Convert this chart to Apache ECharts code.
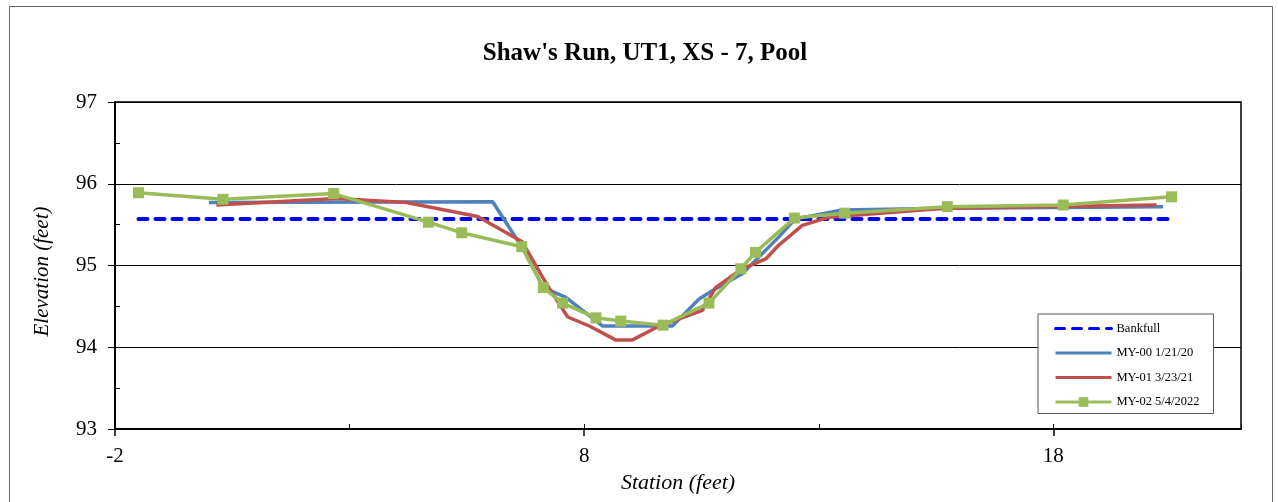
<!DOCTYPE html>
<html>
<head>
<meta charset="utf-8">
<title>Shaw's Run, UT1, XS - 7, Pool</title>
<script src="https://cdn.jsdelivr.net/npm/echarts@6/dist/echarts.min.js"></script>
<style>
  html, body { margin: 0; padding: 0; background: #fff; }
  #chart { width: 1278px; height: 502px; }
</style>
</head>
<body>
<div id="chart"></div>
<script>
// 数据
const seriesNames = ["Bankfull", "MY-00 1/21/20", "MY-01 3/23/21", "MY-02 5/4/2022"];

const bankfullX = [-1.5, 20.5];
const bankfullY = [95.57, 95.57];

const my00X = [0.0, 6.05, 6.7, 7.13, 7.61, 8.39, 9.88, 10.45, 10.73, 11.37, 12.15, 12.5, 13.5, 15.7, 20.34];
const my00Y = [95.77, 95.78, 95.2, 94.73, 94.61, 94.26, 94.26, 94.59, 94.69, 94.9, 95.35, 95.57, 95.68, 95.7, 95.72];

const my01X = [0.16, 2.72, 4.21, 5.73, 6.68, 7.19, 7.65, 8.11, 8.67, 9.03, 9.6, 10.52, 10.8, 11.37, 11.87, 12.15, 12.65, 13.21, 15.7, 20.2];
const my01Y = [95.74, 95.82, 95.77, 95.6, 95.29, 94.78, 94.37, 94.26, 94.09, 94.09, 94.26, 94.45, 94.73, 94.96, 95.08, 95.25, 95.49, 95.59, 95.7, 95.74];

const my02X = [-1.5, 0.3, 2.66, 4.68, 5.39, 6.67, 7.13, 7.54, 8.25, 8.78, 9.68, 10.66, 11.34, 11.65, 12.48, 13.55, 15.74, 18.21, 20.52];
const my02Y = [95.89, 95.81, 95.88, 95.53, 95.4, 95.23, 94.73, 94.54, 94.36, 94.32, 94.27, 94.54, 94.96, 95.16, 95.58, 95.64, 95.72, 95.74, 95.84];

const xMin = -2, xMax = 22, xMajor = 10, xMinor = 5;
const yMin = 93, yMax = 97, yMajor = 1, yMinor = 0.5;

function pairs(xs, ys) {
  return xs.map((x, i) => [x, ys[i]]);
}

const font = "Liberation Serif";
// 图例里不要圆点，只留线（绿色那条保留方块）
const hideDot = { opacity: 0 };

let option = {
  animation: false,
  backgroundColor: "#fff",
  textStyle: { fontFamily: font },
  title: {
    text: "Shaw's Run, UT1, XS - 7, Pool",
    left: 640,
    textAlign: "center",
    top: 36,
    textStyle: { fontFamily: font, fontSize: 25, fontWeight: "bold", color: "#000" }
  },
  graphic: [
    {
      type: "rect",
      shape: { x: 9.5, y: 6.5, width: 1263, height: 510 },
      style: { fill: null, stroke: "#666", lineWidth: 1 },
      silent: true
    }
  ],
  legend: {
    orient: "vertical",
    left: 1038,
    top: 314,
    padding: [8, 14, 5, 16],
    itemWidth: 56,
    itemHeight: 12,
    itemGap: 11.5,
    backgroundColor: "#fff",
    borderColor: "#555",
    borderWidth: 1,
    lineStyle: { width: 3 },
    textStyle: { fontFamily: font, fontSize: 12.5, color: "#000" },
    data: [
      { name: seriesNames[0], itemStyle: hideDot },
      { name: seriesNames[1], itemStyle: hideDot },
      { name: seriesNames[2], itemStyle: hideDot },
      { name: seriesNames[3] }
    ]
  },
  grid: {
    left: 115,
    right: 37,
    top: 102,
    bottom: 73,
    show: true,
    borderColor: "#000",
    borderWidth: 1.5
  },
  xAxis: [
    {
      type: "value",
      min: xMin,
      max: xMax,
      interval: xMajor,
      position: "bottom",
      name: "Station (feet)",
      nameLocation: "middle",
      nameGap: 43,
      nameTextStyle: { fontFamily: font, fontSize: 22, fontStyle: "italic", color: "#000" },
      axisLine: { show: true, onZero: false, lineStyle: { color: "#000", width: 2 } },
      axisTick: { show: true, inside: false, length: 7, lineStyle: { color: "#000", width: 1.5 } },
      axisLabel: { fontFamily: font, fontSize: 21, color: "#000", margin: 17, showMaxLabel: false },
      splitLine: { show: false }
    },
    {
      type: "value",
      min: xMin,
      max: xMax,
      interval: xMinor,
      position: "bottom",
      axisLine: { show: false, onZero: false },
      axisTick: { show: true, inside: true, length: 5, lineStyle: { color: "#000", width: 1 } },
      axisLabel: { show: false },
      splitLine: { show: false }
    }
  ],
  yAxis: [
    {
      type: "value",
      min: yMin,
      max: yMax,
      interval: yMajor,
      position: "left",
      name: "Elevation (feet)",
      nameLocation: "middle",
      nameGap: 62,
      nameTextStyle: { fontFamily: font, fontSize: 21, fontStyle: "italic", color: "#000", padding: [0, 12, 0, 0] },
      axisLine: { show: true, onZero: false, lineStyle: { color: "#000", width: 2 } },
      axisTick: { show: true, inside: false, length: 7, lineStyle: { color: "#000", width: 1 } },
      axisLabel: { fontFamily: font, fontSize: 21, color: "#000", margin: 18 },
      splitLine: { show: true, lineStyle: { color: "#000", width: 1 } }
    },
    {
      type: "value",
      min: yMin,
      max: yMax,
      interval: yMinor,
      position: "left",
      axisLine: { show: false, onZero: false },
      axisTick: { show: true, inside: true, length: 5, lineStyle: { color: "#000", width: 1 } },
      axisLabel: { show: false },
      splitLine: { show: false }
    }
  ],
  series: [
    {
      name: seriesNames[0],
      type: "line",
      symbol: "none",
      lineStyle: { color: "#0000FF", width: 4, type: [9, 8], cap: "round" },
      itemStyle: { color: "#0000FF" },
      data: pairs(bankfullX, bankfullY)
    },
    {
      name: seriesNames[1],
      type: "line",
      symbol: "none",
      lineStyle: { color: "#4F81BD", width: 3.5 },
      itemStyle: { color: "#4F81BD" },
      data: pairs(my00X, my00Y)
    },
    {
      name: seriesNames[2],
      type: "line",
      symbol: "none",
      lineStyle: { color: "#C0504D", width: 3.5 },
      itemStyle: { color: "#C0504D" },
      data: pairs(my01X, my01Y)
    },
    {
      name: seriesNames[3],
      type: "line",
      symbol: "rect",
      symbolSize: 11,
      lineStyle: { color: "#9BBB59", width: 3.5 },
      itemStyle: { color: "#9BBB59" },
      data: pairs(my02X, my02Y)
    }
  ]
};

let chart = echarts.init(document.getElementById("chart"));
chart.setOption(option);
</script>
</body>
</html>
